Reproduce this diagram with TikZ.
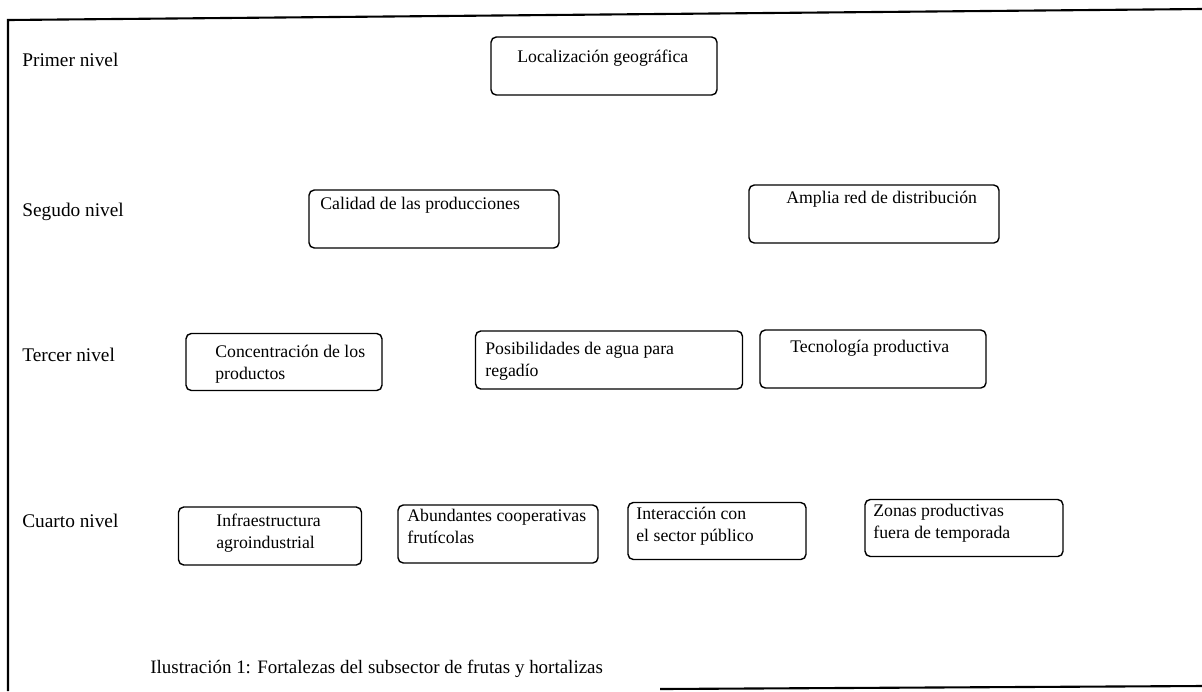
\documentclass[tikz,border=0pt]{standalone}
\usepackage{fontspec}
\setmainfont{Liberation Serif}
\usepackage{tikz}

\begin{document}
\begin{tikzpicture}[x={(0.02cm,0)}, y={(0,-0.02cm)},
            caja/.style = {draw, line width=0.8pt, rounded corners=3pt, inner sep=0pt},
            texto/.style = {anchor=north west, inner sep=0pt, align=left, font=\fontsize{10.1}{12.5}\selectfont},
            nivel/.style = {anchor=west, inner sep=0pt, font=\fontsize{11}{13}\selectfont}]
            \useasboundingbox (0,0) rectangle (1202,691);
            % marco
            \draw[line width=1.2pt] (1202,9) -- (8,20) -- (8,691);
            \draw[line width=1.2pt] (660,689) -- (1202,686);
            % niveles
            \node[nivel] (n1) at (22,60) {Primer nivel};
            \node[nivel] (n2) at (22,212) {Segudo nivel};
            \node[nivel] (n3) at (22,355) {Tercer nivel};
            \node[nivel] (n4) at (22,521) {Cuarto nivel};
            % primer nivel
            \node[caja, minimum width=226*0.02cm, minimum height=58*0.02cm] (loc) at (604,66) {};
            \node[texto] (tloc) at (517,50) {Localización geográfica};
            % segundo nivel
            \node[caja, minimum width=250*0.02cm, minimum height=58*0.02cm] (cal) at (434,219) {};
            \node[texto] (tcal) at (320,197) {Calidad de las producciones};
            \node[caja, minimum width=250*0.02cm, minimum height=58*0.02cm] (red) at (874,214) {};
            \node[texto] (tred) at (786,191) {Amplia red de distribución};
            % tercer nivel
            \node[caja, minimum width=196*0.02cm, minimum height=57*0.02cm] (con) at (284,362) {};
            \node[texto] (tcon) at (215,345) {Concentración de los\\productos};
            \node[caja, minimum width=267*0.02cm, minimum height=58*0.02cm] (agua) at (609,360) {};
            \node[texto] (tagua) at (485,342) {Posibilidades de agua para\\regadío};
            \node[caja, minimum width=226*0.02cm, minimum height=58*0.02cm] (tec) at (873,359) {};
            \node[texto] (ttec) at (790,340) {Tecnología productiva};
            % cuarto nivel
            \node[caja, minimum width=183*0.02cm, minimum height=58*0.02cm] (inf) at (270,536) {};
            \node[texto] (tinf) at (216,514) {Infraestructura\\agroindustrial};
            \node[caja, minimum width=200*0.02cm, minimum height=58*0.02cm] (coop) at (498,534) {};
            \node[texto] (tcoop) at (407,509) {Abundantes cooperativas\\frutícolas};
            \node[caja, minimum width=178*0.02cm, minimum height=57*0.02cm] (pub) at (717,531) {};
            \node[texto] (tpub) at (636,507) {Interacción con\\el sector público};
            \node[caja, minimum width=198*0.02cm, minimum height=57*0.02cm] (zon) at (964,528) {};
            \node[texto] (tzon) at (873,504) {Zonas productivas\\fuera de temporada};
            % pie
            \node[anchor=west, inner sep=0pt, font=\fontsize{10.8}{13}\selectfont] (pie) at (150,669) {Ilustración 1: Fortalezas del subsector de frutas y hortalizas};
\end{tikzpicture}
\end{document}
